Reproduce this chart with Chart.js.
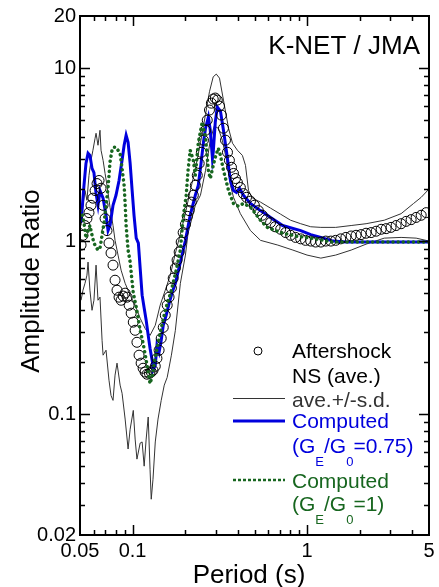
<!DOCTYPE html>
<html>
<head>
<meta charset="utf-8">
<title>Amplitude Ratio - K-NET / JMA</title>
<script src="https://cdn.jsdelivr.net/npm/chart.js@4.4.1/dist/chart.umd.min.js"></script>
<style>
  html, body { margin: 0; padding: 0; background: #fff; }
  #wrap { width: 439px; height: 587px; }
</style>
</head>
<body>
<div id="wrap"><canvas id="chart"></canvas></div>
<script>
// Aftershock NS (ave.) - open circles
const aftershockT = [0.0507,0.052,0.0534,0.0548,0.0563,0.0578,0.0593,0.061,0.0626,0.0643,
  0.066,0.0678,0.0696,0.0714,0.0733,0.0753,0.0773,0.0794,0.0815,0.0837,
  0.086,0.0883,0.0907,0.0931,0.0956,0.0982,0.101,0.1035,0.106,0.109,
  0.112,0.115,0.118,0.121,0.125,0.128,0.131,0.135,0.138,0.142,
  0.146,0.15,0.154,0.158,0.162,0.167,0.171,0.176,0.18,0.185,
  0.19,0.195,0.201,0.206,0.211,0.217,0.223,0.229,0.235,0.241,
  0.248,0.255,0.262,0.268,0.276,0.283,0.29,0.298,0.306,0.315,
  0.323,0.332,0.341,0.35,0.359,0.369,0.379,0.389,0.399,0.415,
  0.432,0.45,0.474,0.499,0.526,0.554,0.584,0.618,0.656,0.706,
  0.754,0.805,0.86,0.92,0.98,1.05,1.12,1.2,1.28,1.37,
  1.46,1.56,1.67,1.79,1.91,2.04,2.18,2.33,2.49,2.66,
  2.84,3.03,3.24,3.46,3.7,3.95,4.22,4.51,4.82];
const aftershockA = [0.948,1.08,1.23,1.35,1.46,1.61,1.77,1.96,2.15,2.24,
  2.02,1.61,1.35,1.15,0.974,0.853,0.726,0.594,0.52,0.474,
  0.455,0.481,0.5,0.474,0.426,0.383,0.34,0.305,0.26,0.219,
  0.197,0.184,0.175,0.17,0.172,0.175,0.179,0.189,0.21,0.234,
  0.274,0.317,0.373,0.426,0.474,0.535,0.61,0.698,0.776,0.865,
  0.987,1.12,1.25,1.39,1.5,1.68,1.84,2.1,2.4,2.81,
  3.26,3.83,4.37,5.0,5.72,6.27,6.62,6.71,6.53,6.03,
  5.35,4.49,3.83,3.26,2.93,2.67,2.46,2.3,2.18,2.04,
  1.88,1.79,1.7,1.61,1.5,1.41,1.33,1.28,1.21,1.17,
  1.12,1.08,1.05,1.03,1.01,1.0,0.987,0.987,1.0,1.0,
  1.01,1.03,1.05,1.07,1.08,1.09,1.11,1.12,1.14,1.17,
  1.18,1.2,1.23,1.26,1.3,1.33,1.37,1.41,1.46];

// ave. + s.d.
const upperT = [0.0507,0.052,0.0534,0.0548,0.0563,0.0578,0.0593,0.061,0.0618,0.0634,
  0.0651,0.066,0.0678,0.0696,0.0714,0.0743,0.0773,0.0794,0.0826,0.086,
  0.0907,0.0969,0.1035,0.1106,0.118,0.126,0.135,0.144,0.154,0.1645,
  0.176,0.188,0.201,0.214,0.229,0.245,0.262,0.276,0.29,0.302,
  0.315,0.332,0.355,0.374,0.399,0.426,0.444,0.462,0.487,0.541,
  0.618,0.706,0.805,0.92,1.05,1.2,1.46,1.79,2.18,2.77,
  3.46,4.08,4.51,5.0];
const upperA = [1.23,1.61,1.96,1.72,2.4,2.93,3.35,3.93,4.2,3.58,
  4.37,3.35,2.93,2.46,2.1,1.57,1.23,1.01,0.83,0.679,
  0.57,0.487,0.426,0.358,0.313,0.285,0.326,0.426,0.52,0.635,
  0.85,1.1,1.45,1.95,2.6,3.7,5.4,7.3,8.9,9.23,
  8.75,6.53,4.49,3.68,3.35,3.13,2.74,1.96,1.77,1.68,
  1.55,1.43,1.32,1.26,1.21,1.2,1.2,1.23,1.26,1.32,
  1.44,1.65,1.79,2.0];

// ave. - s.d.
const lowerT = [0.0507,0.052,0.0534,0.0548,0.0556,0.057,0.0586,0.0601,0.0618,0.0634,
  0.0651,0.0669,0.0678,0.0705,0.0733,0.0753,0.0773,0.0794,0.0815,0.0849,
  0.0871,0.0907,0.0943,0.0969,0.101,0.1035,0.106,0.1106,0.1135,0.1166,
  0.1197,0.123,0.126,0.128,0.131,0.135,0.14,0.146,0.152,0.158,
  0.167,0.176,0.188,0.201,0.208,0.229,0.245,0.262,0.279,0.294,
  0.31,0.327,0.346,0.364,0.379,0.415,0.474,0.541,0.68,0.83,
  1.0,1.2,1.46,1.79,2.18,2.77,3.46,4.22,5.0];
const lowerA = [0.455,0.52,0.57,0.635,0.756,0.52,0.398,0.455,0.726,0.455,
  0.474,0.267,0.219,0.234,0.157,0.128,0.12,0.168,0.197,0.147,
  0.132,0.0936,0.0628,0.0818,0.105,0.0717,0.0549,0.068,0.069,0.05,
  0.0717,0.0962,0.048,0.0322,0.042,0.069,0.0936,0.12,0.147,0.163,
  0.219,0.305,0.57,0.83,1.11,1.61,1.84,2.56,3.83,4.62,
  4.49,3.83,2.93,2.1,1.79,1.44,1.15,1.01,0.948,0.887,
  0.83,0.797,0.83,0.887,0.96,1.04,1.05,1.04,1.0];

// Computed (GE/G0=0.75)
const blueT = [0.0507,0.0527,0.0541,0.0556,0.057,0.0586,0.0601,0.0618,0.0634,0.0651,
  0.0678,0.0705,0.0724,0.0743,0.0773,0.0804,0.0837,0.0871,0.0895,0.0919,
  0.0943,0.0969,0.0995,0.102,0.105,0.108,0.1106,0.1135,0.1166,0.1197,
  0.123,0.126,0.13,0.131,0.135,0.138,0.142,0.146,0.15,0.156,
  0.162,0.169,0.176,0.188,0.201,0.214,0.229,0.238,0.245,0.255,
  0.262,0.272,0.279,0.287,0.29,0.298,0.306,0.319,0.332,0.346,
  0.364,0.379,0.394,0.41,0.432,0.474,0.541,0.618,0.725,0.92,
  1.05,1.2,1.41,1.67,2.66,5.0];
const blueA = [1.28,2.1,2.81,3.22,3.13,2.63,2.49,1.88,1.61,1.96,
  1.77,1.41,1.15,1.23,1.61,1.84,2.24,2.93,3.58,4.09,
  3.73,2.81,1.96,1.41,1.04,0.974,0.698,0.487,0.41,0.349,
  0.285,0.24,0.2,0.179,0.191,0.25,0.228,0.267,0.326,0.373,
  0.437,0.507,0.57,0.756,1.01,1.41,1.84,2.1,2.63,3.73,
  4.49,5.21,4.37,3.01,3.26,4.87,5.95,5.64,4.37,3.26,
  2.24,1.96,1.91,2.02,1.84,1.65,1.5,1.37,1.23,1.15,
  1.09,1.05,1.0,0.987,0.987,0.987];

// Computed (GE/G0=1)
const greenT = [0.05,0.0513,0.0527,0.0541,0.0556,0.057,0.0586,0.0601,0.0618,0.0634,
  0.0651,0.0669,0.0687,0.0705,0.0724,0.0743,0.0763,0.0783,0.0804,0.0826,
  0.0849,0.0871,0.0895,0.0907,0.0919,0.0943,0.0969,0.101,0.105,0.1106,
  0.115,0.1197,0.123,0.126,0.13,0.135,0.144,0.154,0.167,0.178,
  0.188,0.195,0.203,0.208,0.214,0.223,0.229,0.238,0.251,0.262,
  0.272,0.279,0.29,0.298,0.31,0.319,0.332,0.355,0.379,0.404,
  0.432,0.474,0.541,0.592,0.706,0.86,1.05,1.41,5.0];
const greenA = [1.5,1.44,1.28,1.04,1.15,1.23,1.08,0.974,0.923,0.887,
  0.91,1.08,1.28,1.61,2.04,2.86,3.35,3.49,3.49,3.35,
  3.22,2.63,2.1,1.65,1.23,0.887,0.756,0.5,0.415,0.305,
  0.256,0.205,0.175,0.15,0.168,0.213,0.293,0.398,0.52,0.679,
  0.887,1.37,1.84,2.56,3.35,2.93,2.4,3.68,4.87,3.98,
  2.56,2.3,2.74,3.05,3.44,3.13,2.56,1.96,1.65,1.59,
  1.65,1.57,1.32,1.2,1.12,1.07,1.04,0.987,0.987];

// tick values
const xLabels = [0.05, 0.1, 1, 5];
const yLabels = [0.02, 0.1, 1, 10, 20];
const xMajor = [0.1, 1];
const xMinor = [0.06, 0.07, 0.08, 0.09, 0.2, 0.3, 0.4, 0.5, 0.6, 0.7, 0.8, 0.9, 2, 3, 4];
const yMajor = [0.1, 1, 10];
const yMinor = [0.03, 0.04, 0.05, 0.06, 0.07, 0.08, 0.09,
  0.2, 0.3, 0.4, 0.5, 0.6, 0.7, 0.8, 0.9, 2, 3, 4, 5, 6, 7, 8, 9];

const FONT = '"Liberation Sans", Arial, sans-serif';
const BLUE = "#0000dd";
const GREEN = "#17661f";
const GRAY = "#333333";

function pairs(ts, as) {
  return ts.map((t, i) => ({ x: t, y: as[i] }));
}

// draws text with subscript parts, e.g. (G_E/G_0=1)
function drawSubText(ctx, x, y, parts, color) {
  ctx.fillStyle = color;
  ctx.textAlign = "left";
  let cx = x;
  parts.forEach(([txt, sub]) => {
    ctx.font = (sub ? "13px " : "21px ") + FONT;
    ctx.fillText(txt, cx, sub ? y + 13 : y);
    cx += ctx.measureText(txt).width;
  });
}

// frame, inward ticks, titles and the legend
const framePlugin = {
  id: "frame",
  afterDraw(chart) {
    const ctx = chart.ctx;
    const a = chart.chartArea;
    const xs = chart.scales.x;
    const ys = chart.scales.y;
    ctx.save();

    ctx.strokeStyle = "#000";
    ctx.lineWidth = 1.5;
    ctx.beginPath();
    function xTick(v, len) {
      const px = Math.round(xs.getPixelForValue(v)) + 0.5;
      ctx.moveTo(px, a.bottom); ctx.lineTo(px, a.bottom - len);
      ctx.moveTo(px, a.top); ctx.lineTo(px, a.top + len);
    }
    function yTick(v, len) {
      const py = Math.round(ys.getPixelForValue(v)) + 0.5;
      ctx.moveTo(a.left, py); ctx.lineTo(a.left + len, py);
      ctx.moveTo(a.right, py); ctx.lineTo(a.right - len, py);
    }
    xMajor.forEach((v) => xTick(v, 10));
    xMinor.forEach((v) => xTick(v, 5));
    yMajor.forEach((v) => yTick(v, 10));
    yMinor.forEach((v) => yTick(v, 5));
    ctx.stroke();

    ctx.lineWidth = 2;
    ctx.strokeRect(a.left, a.top, a.right - a.left, a.bottom - a.top);

    // axis titles
    ctx.fillStyle = "#000";
    ctx.font = "26px " + FONT;
    ctx.textAlign = "center";
    ctx.textBaseline = "alphabetic";
    ctx.fillText("Period (s)", 249, 583);
    ctx.save();
    ctx.translate(39, 281);
    ctx.rotate(-Math.PI / 2);
    ctx.fillText("Amplitude Ratio", 0, 0);
    ctx.restore();

    // station label
    ctx.textAlign = "right";
    ctx.fillText("K-NET / JMA", 420, 54);

    // legend
    const lx0 = 233, lx1 = 285, tx = 292;
    ctx.lineWidth = 1;
    ctx.strokeStyle = "#000";
    ctx.beginPath();
    ctx.arc(258, 351, 4, 0, Math.PI * 2);
    ctx.stroke();

    ctx.font = "21px " + FONT;
    ctx.textAlign = "left";
    ctx.fillStyle = "#000";
    ctx.fillText("Aftershock", tx, 358);
    ctx.fillText("NS (ave.)", tx, 383);

    ctx.strokeStyle = GRAY;
    ctx.beginPath();
    ctx.moveTo(lx0, 398.5); ctx.lineTo(lx1, 398.5);
    ctx.stroke();
    ctx.fillStyle = GRAY;
    ctx.fillText("ave.+/-s.d.", tx, 407);

    ctx.strokeStyle = BLUE;
    ctx.lineWidth = 3;
    ctx.beginPath();
    ctx.moveTo(lx0, 421); ctx.lineTo(lx1, 421);
    ctx.stroke();
    ctx.fillStyle = BLUE;
    ctx.fillText("Computed", tx, 428);
    drawSubText(ctx, tx, 453, [["(G", 0], ["E", 1], ["/G", 0], ["0", 1], ["=0.75)", 0]], BLUE);

    ctx.strokeStyle = GREEN;
    ctx.lineWidth = 2.5;
    ctx.setLineDash([3, 2]);
    ctx.beginPath();
    ctx.moveTo(lx0, 480); ctx.lineTo(lx1, 480);
    ctx.stroke();
    ctx.setLineDash([]);
    ctx.font = "21px " + FONT;
    ctx.fillStyle = GREEN;
    ctx.fillText("Computed", tx, 488);
    drawSubText(ctx, tx, 511, [["(G", 0], ["E", 1], ["/G", 0], ["0", 1], ["=1)", 0]], GREEN);

    ctx.restore();
  },
};

const ctx = document.getElementById("chart").getContext("2d");

new Chart(ctx, {
  type: "line",
  data: {
    datasets: [
      {
        label: "Computed (GE/G0=1)",
        data: pairs(greenT, greenA),
        borderColor: GREEN,
        borderWidth: 3.5,
        borderDash: [0.1, 5],
        borderCapStyle: "round",
        pointRadius: 0,
        tension: 0,
        fill: false,
      },
      {
        label: "Aftershock NS (ave.)",
        data: pairs(aftershockT, aftershockA),
        showLine: false,
        pointRadius: 5,
        pointBorderWidth: 1,
        pointBorderColor: "#000",
        pointBackgroundColor: "rgba(0,0,0,0)",
      },
      {
        label: "Computed (GE/G0=0.75)",
        data: pairs(blueT, blueA),
        borderColor: BLUE,
        borderWidth: 3,
        pointRadius: 0,
        tension: 0,
        fill: false,
      },
      {
        label: "ave.+s.d.",
        data: pairs(upperT, upperA),
        borderColor: GRAY,
        borderWidth: 1,
        pointRadius: 0,
        tension: 0,
        fill: false,
      },
      {
        label: "ave.-s.d.",
        data: pairs(lowerT, lowerA),
        borderColor: GRAY,
        borderWidth: 1,
        pointRadius: 0,
        tension: 0,
        fill: false,
      },
    ],
  },
  options: {
    responsive: true,
    maintainAspectRatio: false,
    animation: false,
    devicePixelRatio: 1,
    layout: { padding: { top: 16, right: 10, bottom: 0, left: 0 } },
    plugins: {
      legend: { display: false },
      tooltip: { enabled: false },
    },
    scales: {
      x: {
        type: "logarithmic",
        min: 0.05,
        max: 5,
        grid: { display: false, drawTicks: false },
        border: { display: false },
        afterBuildTicks: (scale) => {
          scale.ticks = xLabels.map((v) => ({ value: v }));
        },
        afterFit: (scale) => {
          scale.height = 52;
        },
        ticks: {
          autoSkip: false,
          maxRotation: 0,
          padding: 4,
          color: "#000",
          font: { family: FONT, size: 20 },
          callback: (v) => String(v),
        },
      },
      y: {
        type: "logarithmic",
        min: 0.02,
        max: 20,
        grid: { display: false, drawTicks: false },
        border: { display: false },
        afterBuildTicks: (scale) => {
          scale.ticks = yLabels.map((v) => ({ value: v }));
        },
        afterFit: (scale) => {
          scale.width = 80;
        },
        ticks: {
          autoSkip: false,
          padding: 4,
          color: "#000",
          font: { family: FONT, size: 20 },
          callback: (v) => String(v),
        },
      },
    },
  },
  plugins: [framePlugin],
});
</script>
</body>
</html>
